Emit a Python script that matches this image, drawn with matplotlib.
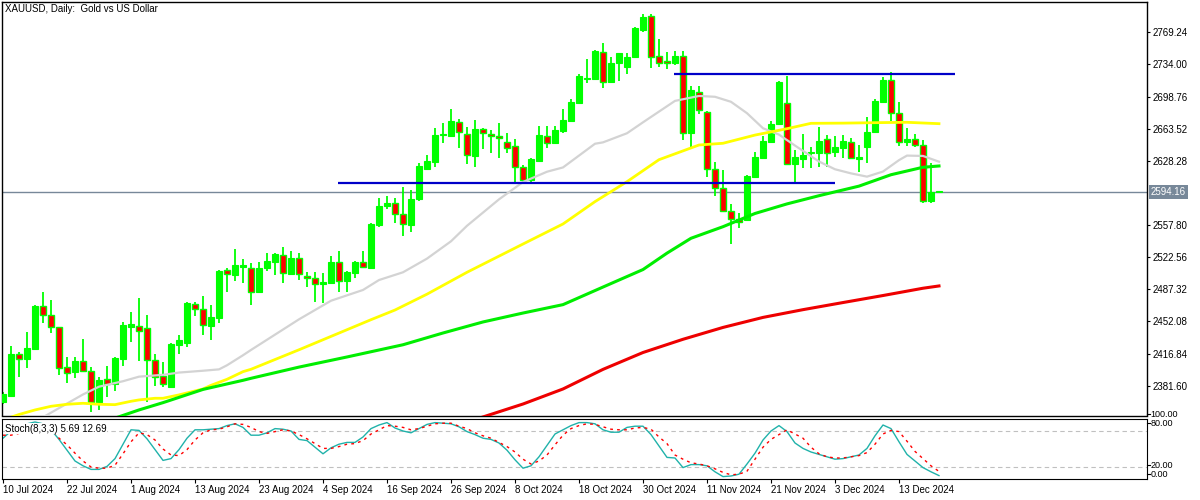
import numpy as np
import matplotlib
matplotlib.use('Agg')
import matplotlib.pyplot as plt
import matplotlib.transforms as mtrans

plt.rcParams['font.family'] = ['Liberation Sans', 'DejaVu Sans']

# daily candles, 10 Jul 2024 .. 20 Dec 2024 (one row per bar)
opens = [2364.0, 2370.6, 2416.4, 2411.2, 2421.5, 2469.0, 2458.8, 2445.7, 2402.1, 2397.0,
         2408.9, 2397.4, 2363.7, 2388.6, 2383.5, 2411.2, 2446.3, 2446.7, 2444.6, 2409.6,
         2392.3, 2380.5, 2426.3, 2428.8, 2471.2, 2465.4, 2447.4, 2456.2, 2508.2, 2503.0,
         2512.1, 2511.1, 2484.4, 2511.1, 2517.6, 2525.0, 2504.1, 2521.3, 2502.3, 2499.4,
         2492.8, 2494.0, 2517.0, 2496.8, 2505.5, 2517.0, 2511.1, 2557.9, 2579.0, 2581.7,
         2569.6, 2558.3, 2586.1, 2619.0, 2627.3, 2656.3, 2655.8, 2671.2, 2657.4, 2633.9,
         2662.8, 2657.4, 2655.5, 2648.6, 2644.5, 2621.2, 2607.2, 2628.1, 2655.5, 2647.5,
         2661.3, 2672.3, 2692.0, 2718.3, 2718.0, 2747.3, 2714.4, 2735.2, 2731.5, 2741.8,
         2771.8, 2787.1, 2743.2, 2737.8, 2735.2, 2743.2, 2658.5, 2704.1, 2682.1, 2619.0,
         2598.1, 2573.6, 2564.8, 2563.4, 2610.9, 2631.0, 2649.3, 2668.7, 2691.3, 2624.4,
         2629.9, 2636.5, 2636.5, 2651.9, 2638.3, 2642.7, 2648.6, 2630.6, 2643.1, 2660.2,
         2693.1, 2716.9, 2680.4, 2649.2, 2651.9, 2645.6, 2584.5, 2593.7]
highs = [2375.0, 2425.2, 2418.9, 2440.5, 2470.0, 2484.7, 2475.6, 2446.5, 2413.4, 2413.0,
         2433.2, 2402.5, 2391.5, 2403.3, 2413.4, 2451.8, 2462.8, 2477.5, 2459.2, 2416.1,
         2407.3, 2428.2, 2437.0, 2473.8, 2473.8, 2480.0, 2470.1, 2508.5, 2511.1, 2531.6,
         2520.2, 2515.9, 2517.6, 2526.9, 2527.5, 2534.1, 2529.4, 2526.9, 2506.7, 2506.0,
         2504.9, 2523.9, 2529.4, 2507.5, 2518.5, 2529.4, 2559.8, 2587.2, 2589.7, 2587.2,
         2599.9, 2596.3, 2625.6, 2634.7, 2664.6, 2669.4, 2685.1, 2673.8, 2665.0, 2673.0,
         2664.6, 2662.0, 2669.4, 2658.5, 2651.9, 2623.7, 2631.0, 2666.5, 2666.5, 2666.5,
         2684.8, 2696.1, 2723.5, 2739.6, 2749.5, 2757.8, 2741.8, 2747.0, 2746.2, 2774.5,
         2789.3, 2789.3, 2761.6, 2747.9, 2748.7, 2748.7, 2710.3, 2710.3, 2683.2, 2627.3,
         2618.2, 2580.9, 2570.7, 2612.7, 2638.3, 2655.5, 2672.3, 2715.3, 2721.3, 2640.1,
         2657.7, 2643.1, 2665.7, 2656.6, 2655.5, 2656.6, 2653.0, 2645.6, 2676.0, 2695.7,
         2720.5, 2725.4, 2692.5, 2664.0, 2657.7, 2651.1, 2625.6, 2595.0]
lows = [2362.0, 2369.0, 2391.5, 2401.4, 2421.0, 2450.7, 2439.8, 2393.7, 2384.8, 2389.6,
        2397.0, 2353.1, 2355.0, 2369.6, 2376.0, 2403.3, 2429.9, 2408.9, 2364.1, 2381.3,
        2379.9, 2380.0, 2416.4, 2423.7, 2458.4, 2437.2, 2431.8, 2450.0, 2484.7, 2496.8,
        2494.0, 2470.1, 2483.0, 2507.4, 2503.0, 2494.0, 2503.0, 2497.6, 2490.2, 2473.0,
        2472.0, 2493.0, 2484.7, 2484.7, 2500.1, 2510.4, 2509.6, 2556.0, 2575.1, 2560.4,
        2546.2, 2550.5, 2584.2, 2618.2, 2621.8, 2648.2, 2654.7, 2642.0, 2624.8, 2621.8,
        2640.9, 2636.5, 2631.0, 2637.2, 2605.4, 2605.4, 2605.4, 2627.3, 2642.7, 2646.7,
        2658.5, 2671.2, 2691.4, 2713.3, 2716.9, 2707.8, 2713.3, 2716.2, 2723.5, 2740.7,
        2769.9, 2729.7, 2730.9, 2729.0, 2733.4, 2651.1, 2643.8, 2679.6, 2610.2, 2589.7,
        2572.5, 2536.7, 2554.2, 2562.0, 2610.2, 2630.0, 2648.2, 2667.6, 2623.7, 2605.4,
        2620.1, 2620.1, 2621.8, 2621.8, 2632.8, 2631.7, 2630.0, 2616.3, 2626.2, 2659.1,
        2692.0, 2672.3, 2644.9, 2644.9, 2643.1, 2582.3, 2582.3, 2593.0]
closes = [2372.5, 2416.4, 2411.2, 2423.0, 2469.0, 2458.8, 2445.7, 2400.7, 2395.9, 2408.9,
          2397.4, 2364.1, 2387.9, 2383.8, 2412.3, 2448.2, 2449.0, 2441.3, 2409.6, 2391.5,
          2383.2, 2427.4, 2431.8, 2472.7, 2465.4, 2447.9, 2456.6, 2507.4, 2503.8, 2514.0,
          2514.0, 2484.7, 2511.1, 2518.4, 2525.7, 2505.0, 2521.3, 2503.8, 2499.4, 2492.8,
          2495.4, 2517.0, 2496.8, 2506.7, 2517.6, 2511.5, 2559.0, 2578.7, 2581.7, 2569.6,
          2558.7, 2586.1, 2622.6, 2628.1, 2656.6, 2658.0, 2671.9, 2659.6, 2634.7, 2662.8,
          2658.5, 2655.2, 2653.0, 2642.0, 2621.2, 2607.2, 2629.9, 2656.6, 2647.5, 2662.1,
          2673.0, 2693.1, 2721.3, 2719.4, 2748.7, 2714.4, 2735.2, 2746.2, 2741.8, 2773.9,
          2786.3, 2742.5, 2735.2, 2735.2, 2743.6, 2658.5, 2705.9, 2684.0, 2619.3, 2598.1,
          2573.2, 2564.1, 2561.5, 2611.6, 2632.1, 2650.0, 2668.3, 2714.4, 2624.8, 2632.1,
          2634.7, 2638.3, 2650.0, 2637.2, 2643.1, 2650.0, 2631.0, 2632.1, 2660.2, 2694.2,
          2716.9, 2680.4, 2648.6, 2652.2, 2645.6, 2584.5, 2593.7, 2594.16]

# moving averages (bar index, price)
ma_gray_idx = [5, 10, 12, 15, 17, 20, 22, 25, 27, 28, 30, 31, 37, 41, 45, 47, 50, 53, 56, 58,
               62, 65, 68, 70, 74, 75, 78, 80, 84, 87, 89, 91, 93, 95, 97, 99, 102, 104, 106,
               108, 110, 112, 113, 115, 117]
ma_gray = [2347, 2372, 2380.5, 2386.5, 2391.5, 2393.5, 2396, 2398, 2399.5, 2404, 2415, 2420.8,
           2454.4, 2474.8, 2486.6, 2497.5, 2506, 2521, 2540, 2557, 2586, 2605, 2616.3, 2621,
           2647, 2648.5, 2658.5, 2670.5, 2694, 2699.4, 2698.5, 2693, 2680.5, 2664, 2657, 2645,
           2627.5, 2619, 2614.5, 2610.9, 2616.5, 2629, 2634, 2633.6, 2627.3]
ma_yellow_idx = [0, 2, 4, 6, 8, 10, 12, 14, 16, 17, 19, 20, 22, 25, 26, 28, 30, 31, 37, 46, 49,
                 53, 58, 65, 70, 74, 78, 82, 87, 90, 94, 98, 101, 105, 109, 113, 117]
ma_yellow = [2344, 2350, 2355, 2359, 2361.2, 2362.3, 2361.2, 2360.8, 2364.5, 2366, 2367.8,
             2367.8, 2371.5, 2378, 2382, 2388.6, 2397, 2399.6, 2421, 2454, 2464.6, 2482, 2506,
             2537, 2559, 2583.5, 2605.4, 2629.5, 2645.6, 2647.5, 2656.5, 2663.5, 2669.4,
             2669.6, 2670.1, 2670.5, 2669]
ma_green_idx = [14, 17, 20, 25, 30, 31, 37, 43, 50, 55, 60, 65, 70, 75, 80, 83, 86, 90, 94, 98,
                102, 107, 111, 115, 117]
ma_green = [2346, 2355, 2363, 2377.5, 2387.5, 2389.7, 2402, 2413.1, 2426.5, 2439.4, 2451.5,
            2461.3, 2470.5, 2489.8, 2509, 2527, 2543.3, 2556, 2570.5, 2581, 2590, 2600.5, 2613,
            2621.2, 2622.6]
ma_red_idx = [60, 65, 70, 75, 80, 85, 90, 95, 100, 105, 110, 115, 117]
ma_red = [2347.3, 2361.5, 2378, 2399.5, 2418, 2432.5, 2445.5, 2456.5, 2465, 2472.8, 2480.5,
          2488.5, 2491]

# hand drawn levels: price, first bar, last bar
levels = [2723.8, 2603.9]
level_start = [83.9, 41.9]
level_end = [119.0, 104.0]

last_price = 2594.16

# stochastic 8,3,3
stoch_k = [68, 80, 88, 92, 95, 92, 82, 66, 48, 30, 22, 16, 16, 21, 34, 58, 82, 81, 67, 49,
           31, 34, 49, 68, 82, 82, 83, 84, 89, 92, 86, 73, 73, 77, 84, 83, 80, 66, 64, 53,
           42, 52, 58, 61, 61, 70, 84, 90, 94, 85, 80, 77, 84, 91, 94, 93, 92, 87, 79, 74,
           68, 66, 60, 48, 32, 18, 22, 37, 56, 75, 82, 89, 94, 94, 92, 82, 78, 78, 86, 88,
           88, 74, 55, 36, 35, 19, 24, 24, 22, 12, 4, 5, 8, 25, 43, 65, 80, 89, 79, 60,
           51, 45, 41, 37, 33, 34, 37, 40, 51, 72, 90, 84, 62, 41, 30, 19, 12, 5.69]
stoch_d = [73, 73, 76, 82, 88, 90, 85, 68, 57, 43, 30, 20, 18, 18, 23, 42, 62, 77, 74, 65,
           50, 40, 39, 49, 65, 77, 82, 83, 87, 92, 91, 86, 79, 76, 79, 82, 80, 74, 67, 59,
           51, 51, 54, 58, 59, 64, 75, 82, 89, 88, 86, 82, 84, 88, 92, 93, 93, 88, 84, 77,
           72, 68, 61, 54, 45, 33, 25, 30, 40, 57, 73, 84, 89, 92, 91, 87, 83, 82, 82, 85,
           86, 83, 70, 59, 40, 33, 27, 25, 22, 17, 11, 7, 8, 13, 33, 53, 66, 74, 82, 75,
           68, 53, 42, 37, 35, 35, 37, 39, 44, 58, 75, 81, 79, 63, 46, 34, 22, 12.69]

date_idx = [0, 8, 16, 24, 32, 40, 48, 56, 64, 72, 80, 88, 96, 104, 112]
date_labels = ['10 Jul 2024', '22 Jul 2024', '1 Aug 2024', '13 Aug 2024', '23 Aug 2024',
               '4 Sep 2024', '16 Sep 2024', '26 Sep 2024', '8 Oct 2024', '18 Oct 2024',
               '30 Oct 2024', '11 Nov 2024', '21 Nov 2024', '3 Dec 2024', '13 Dec 2024']
price_ticks = [2769.24, 2734.00, 2698.76, 2663.52, 2628.28, 2557.80, 2522.56, 2487.32,
               2452.08, 2416.84, 2381.60]
# stoch scale labels sit in pairs near the panel edges, as the terminal draws them
stoch_labels = ['100.00', '80.00', '20.00', '0.00']
stoch_label_pos = [1.083, 0.933, 0.233, 0.083]

up_col = '#00ff00'
dn_col = '#ff0000'

fig = plt.figure(figsize=(12, 5), dpi=100)
ax = fig.add_axes([2.3/1200, 1-415.5/500, 1145/1200, 413.8/500])
ax2 = fig.add_axes([2.3/1200, 1-479/500, 1145/1200, 60/500])

o = np.array(opens)
h = np.array(highs)
l = np.array(lows)
c = np.array(closes)
x = np.arange(len(o))
up = c >= o

ax.vlines(x, l, h, color=up_col, lw=1.3, zorder=2)
body = np.maximum(np.abs(c - o), 1.2)
bottom = np.minimum(o, c)
ax.bar(x[up], body[up], 0.72, bottom=bottom[up], color=up_col, edgecolor=up_col, lw=0.8, zorder=3)
ax.bar(x[~up], body[~up], 0.72, bottom=bottom[~up], color=dn_col, edgecolor=up_col, lw=1.0, zorder=3)

ax.plot(ma_gray_idx, ma_gray, color='#d3d3d3', lw=1.6, zorder=4)
ax.plot(ma_yellow_idx, ma_yellow, color='#ffff00', lw=2.0, zorder=4)
ax.plot(ma_green_idx, ma_green, color='#00ee00', lw=2.2, zorder=4)
ax.plot(ma_red_idx, ma_red, color='#ee0000', lw=2.2, zorder=4)

for lv, a, b in zip(levels, level_start, level_end):
    ax.hlines(lv, a, b, color='#0000c8', lw=1.6, zorder=5)

ax.axhline(last_price, color='#778899', lw=1.0, zorder=1)

ax.set_xlim(-0.09, 143.04)
ax.set_ylim(2348.9, 2802.8)
ax.set_xticks([])
ax.yaxis.tick_right()
ax.set_yticks(price_ticks)
ax.set_yticklabels(['%.2f' % p for p in price_ticks])
ax.tick_params(axis='y', direction='out', length=2.5, width=0.8, pad=1, labelsize=7)
trans = mtrans.blended_transform_factory(ax.transAxes, ax.transData)
ax.text(1.003, last_price, '%.2f' % last_price, transform=trans, fontsize=7, color='white',
        va='center', ha='left', bbox=dict(facecolor='#778899', edgecolor='none', pad=1.2))
for s in ax.spines.values():
    s.set_linewidth(1.0)

ax.text(0.0025, 0.995, 'XAUUSD, Daily:  Gold vs US Dollar', transform=ax.transAxes,
        fontsize=7, va='top', ha='left')

# stochastic panel
ax2.axhline(80, color='#c0c0c0', lw=0.8, ls=(0, (4, 3)))
ax2.axhline(20, color='#c0c0c0', lw=0.8, ls=(0, (4, 3)))
ax2.plot(x, stoch_k, color='#20b2aa', lw=1.0)
ax2.plot(x, stoch_d, color='#ff0000', lw=1.0, ls=(0, (2, 3)))
ax2.set_xlim(-0.09, 143.04)
ax2.set_ylim(0, 100)
ax2.set_yticks([])
for lab, yp in zip(stoch_labels, stoch_label_pos):
    ax2.plot([1.0, 1.0 + 3/1145], [yp, yp], transform=ax2.transAxes, color='black', lw=0.8,
             clip_on=False)
    ax2.text(1.0 + 3.5/1145, yp, lab, transform=ax2.transAxes, fontsize=6.5, va='center',
             ha='left')
ax2.set_xticks(date_idx)
ax2.set_xticklabels(date_labels)
ax2.tick_params(axis='x', direction='out', length=3, width=0.8, pad=1, labelsize=7)
for lab in ax2.get_xticklabels():
    lab.set_horizontalalignment('left')
ax2.text(0.0025, 0.92, 'Stoch(8,3,3) 5.69 12.69', transform=ax2.transAxes, fontsize=7,
         va='top', ha='left', zorder=5,
         bbox=dict(facecolor='white', edgecolor='none', pad=0.3))

fig.savefig('out.png', dpi=100)
